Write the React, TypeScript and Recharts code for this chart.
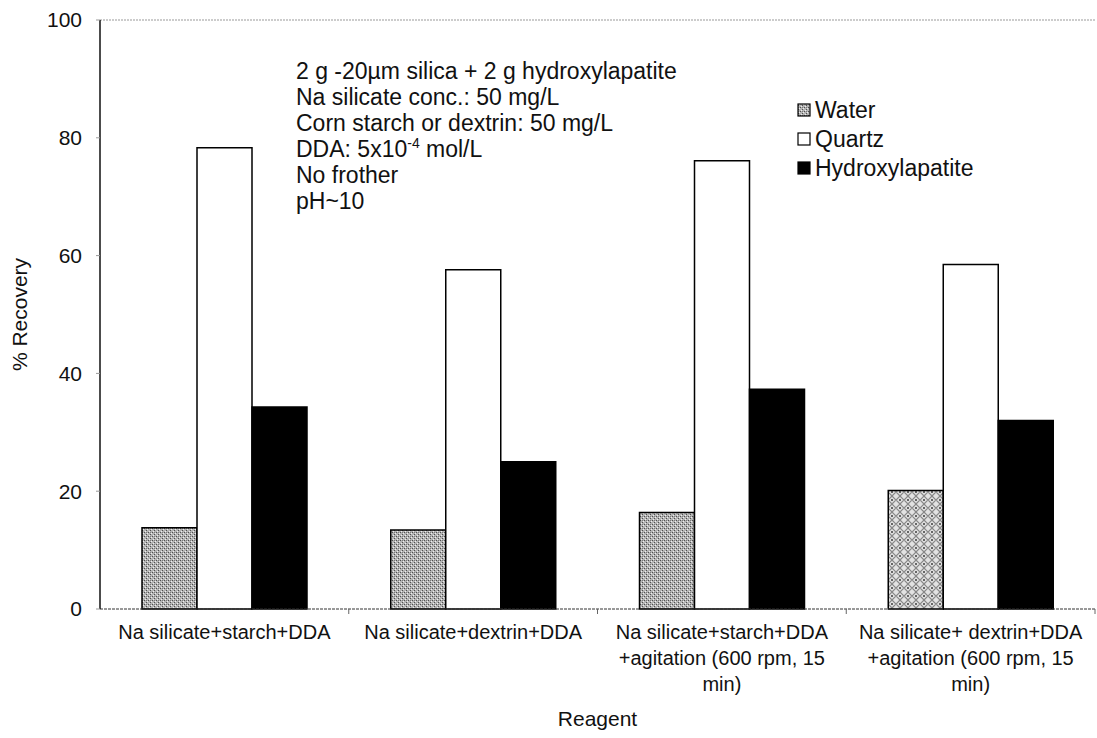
import { BarChart, Bar, XAxis, YAxis, Label, Cell, ReferenceLine } from 'recharts';

const categories = [
  ['Na silicate+starch+DDA'],
  ['Na silicate+dextrin+DDA'],
  ['Na silicate+starch+DDA', '+agitation (600 rpm, 15', 'min)'],
  ['Na silicate+ dextrin+DDA', '+agitation (600 rpm, 15', 'min)'],
];
const water = [13.8, 13.4, 16.4, 20.1];
const quartz = [78.3, 57.6, 76.1, 58.5];
const hydroxylapatite = [34.3, 25.0, 37.3, 32.0];
const yTicks = [0, 20, 40, 60, 80, 100];
const notes = [
  '2 g -20µm silica + 2 g hydroxylapatite',
  'Na silicate conc.: 50 mg/L',
  'Corn starch or dextrin: 50 mg/L',
  'DDA: 5x10^-4 mol/L',
  'No frother',
  'pH~10',
];

const data = categories.map((lines, i) => ({
  name: lines.join(' '),
  water: water[i],
  quartz: quartz[i],
  hap: hydroxylapatite[i],
}));

const FONT = "'Liberation Sans', Arial, sans-serif";

const W = 1097;
const H = 738;
const LEFT = 100;
const RIGHT = 2;
const band = (W - LEFT - RIGHT) / categories.length;

const CategoryTick = (props: any) => {
  const { x, y, payload, index } = props;
  const lines = categories[index] || [payload.value];
  return (
    <g>
      <line x1={x + band / 2} x2={x + band / 2} y1={y - 8} y2={y - 3} stroke="#666" />
      <text textAnchor="middle" fontFamily={FONT} fontSize={20} fill="#111">
        {lines.map((l: string, i: number) => (
          <tspan key={i} x={x} y={y + 22 + i * 26}>{l}</tspan>
        ))}
      </text>
    </g>
  );
};

const legendItems = [
  { label: 'Water', fill: 'url(#waterPat)' },
  { label: 'Quartz', fill: '#fff' },
  { label: 'Hydroxylapatite', fill: '#000' },
];

// drawn outside recharts so it doesn't shrink the plot area
const ChartLegend = () => (
  <svg width={230} height={95} style={{ position: 'absolute', left: 796, top: 95 }}>
    {legendItems.map((it, i) => (
      <g key={it.label} transform={`translate(0, ${i * 29})`}>
        <rect x={2} y={9} width={12} height={12} fill={it.fill} stroke="#000" strokeWidth={1.2} />
        <text x={19} y={23} fontFamily={FONT} fontSize={23} fill="#111">{it.label}</text>
      </g>
    ))}
  </svg>
);

export default function App() {
  return (
    <div style={{ position: 'absolute', left: 0, top: 0, width: W, height: H, background: '#fff' }}>
      <BarChart
        width={W}
        height={H}
        data={data}
        margin={{ top: 20, right: RIGHT, bottom: 0, left: 0 }}
        barGap={0}
      >
        <defs>
          <pattern id="waterPat" width="4" height="4" patternUnits="userSpaceOnUse">
            <rect width="4" height="4" fill="#b4b4b4" />
            <rect x="0" y="0" width="1" height="1" fill="#505050" />
            <rect x="2" y="2" width="1" height="1" fill="#505050" />
            <rect x="2" y="0" width="1" height="1" fill="#7a7a7a" />
            <rect x="1" y="3" width="1" height="1" fill="#eeeeee" />
            <rect x="3" y="1" width="1" height="1" fill="#eeeeee" />
          </pattern>
          <pattern id="waterPat2" width="8" height="8" patternUnits="userSpaceOnUse">
            <rect width="8" height="8" fill="#e2e2e2" />
            <path d="M0 4 L4 0 L8 4 L4 8 Z" fill="none" stroke="#888" strokeWidth="1.2" />
            <rect x="3" y="3" width="2" height="2" fill="#666" />
          </pattern>
        </defs>
        <XAxis
          dataKey="name"
          height={129}
          axisLine={{ stroke: '#333', strokeDasharray: '3 1' }}
          tickLine={false}
          interval={0}
          tick={<CategoryTick />}
        >
          <Label value="Reagent" position="insideBottom" offset={12} style={{ fontFamily: FONT, fontSize: 21, fill: '#111' }} />
        </XAxis>
        <YAxis
          width={LEFT}
          domain={[0, 100]}
          ticks={yTicks}
          interval={0}
          axisLine={{ stroke: '#111', strokeWidth: 1.5 }}
          tickLine={{ stroke: '#999' }}
          tickSize={4}
          tickMargin={14}
          tick={{ fontFamily: FONT, fontSize: 21, fill: '#111' }}
        >
          <Label value="% Recovery" angle={-90} position="insideLeft" offset={20} style={{ textAnchor: 'middle', fontFamily: FONT, fontSize: 21, fill: '#111' }} />
        </YAxis>
        <ReferenceLine y={100} stroke="#999" strokeDasharray="2 1" />
        <Bar dataKey="water" name="Water" barSize={55} stroke="#000" strokeWidth={1.5} isAnimationActive={false}>
          {data.map((d, i) => (
            <Cell key={d.name} fill={i === 3 ? 'url(#waterPat2)' : 'url(#waterPat)'} />
          ))}
        </Bar>
        <Bar dataKey="quartz" name="Quartz" barSize={55} fill="#fff" stroke="#000" strokeWidth={1.5} isAnimationActive={false} />
        <Bar dataKey="hap" name="Hydroxylapatite" barSize={55} fill="#000" stroke="#000" strokeWidth={1.5} isAnimationActive={false} />
      </BarChart>
      <ChartLegend />
      <div style={{ position: 'absolute', left: 296, top: 58, fontFamily: FONT, fontSize: 23, lineHeight: '26px', color: '#111', whiteSpace: 'nowrap' }}>
        {notes.map((n) => {
          if (n.includes('^')) {
            const [a, rest] = n.split('^');
            const [sup, ...tail] = rest.split(' ');
            return (
              <div key={n}>
                {a}<sup style={{ fontSize: 14, verticalAlign: 'super', lineHeight: 0 }}>{sup}</sup> {tail.join(' ')}
              </div>
            );
          }
          return <div key={n}>{n}</div>;
        })}
      </div>
    </div>
  );
}
